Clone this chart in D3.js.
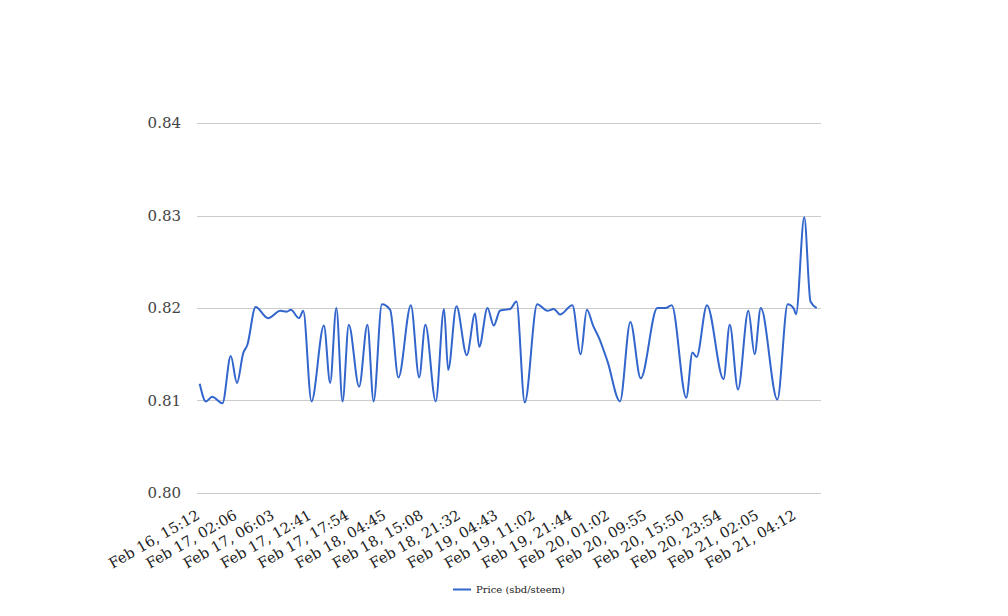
<!DOCTYPE html>
<html>
<head>
<meta charset="utf-8">
<script src="https://cdn.jsdelivr.net/npm/d3@7/dist/d3.min.js"></script>
<style>
  html, body { margin: 0; padding: 0; background: #fff; }
  svg { display: block; }
</style>
</head>
<body>
<svg id="chart" width="1008" height="616"></svg>
<script>
// Tick labels (one every 18 samples along the category axis)
const tickLabels = [
  "Feb 16, 15:12", "Feb 17, 02:06", "Feb 17, 06:03", "Feb 17, 12:41",
  "Feb 17, 17:54", "Feb 18, 04:45", "Feb 18, 15:08", "Feb 18, 21:32",
  "Feb 19, 04:43", "Feb 19, 11:02", "Feb 19, 21:44", "Feb 20, 01:02",
  "Feb 20, 09:55", "Feb 20, 15:50", "Feb 20, 23:54", "Feb 21, 02:05",
  "Feb 21, 04:12"
];
const tickEvery = 18;
const sampleCount = 299;

// Sample index along the category axis and price read at it
const sampleIndex = [
  0, 3, 6, 11, 15, 18, 21, 23, 27, 33, 39, 42, 44, 48, 50, 54, 60, 63, 66, 69,
  72, 77, 81, 84, 88, 92, 96, 102, 106, 109, 114, 118, 120, 124, 129, 133, 135, 139, 142, 145,
  147, 150, 153, 157, 163, 168, 171, 174, 180, 184, 187, 190, 193, 197, 203, 208, 213, 221, 225, 228,
  235, 238, 240, 245, 253, 256, 260, 265, 268, 271, 279, 284, 287, 288, 292, 295, 298
];
const price = [
  0.8118, 0.8099, 0.8104, 0.8097, 0.8148, 0.8119, 0.8151, 0.8160, 0.8201, 0.8189,
  0.8197, 0.8196, 0.8198, 0.8189, 0.8197, 0.8099, 0.8181, 0.8119, 0.8200, 0.8099,
  0.8182, 0.8115, 0.8182, 0.8099, 0.8204, 0.8198, 0.8125, 0.8203, 0.8125, 0.8182,
  0.8099, 0.8199, 0.8133, 0.8202, 0.8149, 0.8194, 0.8158, 0.8200, 0.8181, 0.8197,
  0.8198, 0.8199, 0.8207, 0.8098, 0.8204, 0.8197, 0.8199, 0.8193, 0.8203, 0.8150,
  0.8198, 0.8181, 0.8167, 0.8142, 0.8099, 0.8185, 0.8124, 0.8200, 0.8200, 0.8203,
  0.8103, 0.8152, 0.8147, 0.8203, 0.8123, 0.8182, 0.8112, 0.8197, 0.8150, 0.8200,
  0.8101, 0.8204, 0.8199, 0.8193, 0.8298, 0.8207, 0.8200
];
const yTicks = [0.80, 0.81, 0.82, 0.83, 0.84];
const seriesName = "Price (sbd/steem)";

const svg = d3.select("#chart");
const fontFamily = "'DejaVu Serif', serif";

const x = d3.scaleLinear().domain([0, sampleCount - 1]).range([199.7, 816.7]);
const y = d3.scaleLinear().domain([0.80, 0.84]).range([493, 123]);

// Gridlines
svg.append("g").selectAll("line").data(yTicks).join("line")
  .attr("x1", 197).attr("x2", 821)
  .attr("y1", d => Math.round(y(d)) + 0.5).attr("y2", d => Math.round(y(d)) + 0.5)
  .attr("stroke", "#cccccc").attr("stroke-width", 1);

// Y labels
svg.append("g").selectAll("text").data(yTicks).join("text")
  .attr("x", 181).attr("y", d => y(d)).attr("dy", "0.36em")
  .attr("text-anchor", "end")
  .attr("font-family", fontFamily).attr("font-size", 15)
  .attr("fill", "#444")
  .text(d => d.toFixed(2));

// X labels
svg.append("g").selectAll("text").data(tickLabels).join("text")
  .attr("text-anchor", "end")
  .attr("font-family", fontFamily).attr("font-size", 14.6)
  .attr("fill", "#222")
  .attr("transform", (d, i) => `translate(${x(i * tickEvery) + 1},${518}) rotate(-30)`)
  .text(d => d);

// Line
const pts = sampleIndex.map((d, i) => [d, price[i]]);
const line = d3.line().x(d => x(d[0])).y(d => y(d[1])).curve(d3.curveMonotoneX);
svg.append("path").datum(pts)
  .attr("d", line).attr("fill", "none")
  .attr("stroke", "#3366cc").attr("stroke-width", 2)
  .attr("stroke-linejoin", "round");

// Legend
const lg = svg.append("g");
lg.append("line").attr("x1", 453).attr("x2", 471).attr("y1", 589.5).attr("y2", 589.5)
  .attr("stroke", "#3366cc").attr("stroke-width", 2);
lg.append("text").attr("x", 476).attr("y", 589.5).attr("dy", "0.35em")
  .attr("font-family", fontFamily).attr("font-size", 10).attr("fill", "#222")
  .text(seriesName);
</script>
</body>
</html>
